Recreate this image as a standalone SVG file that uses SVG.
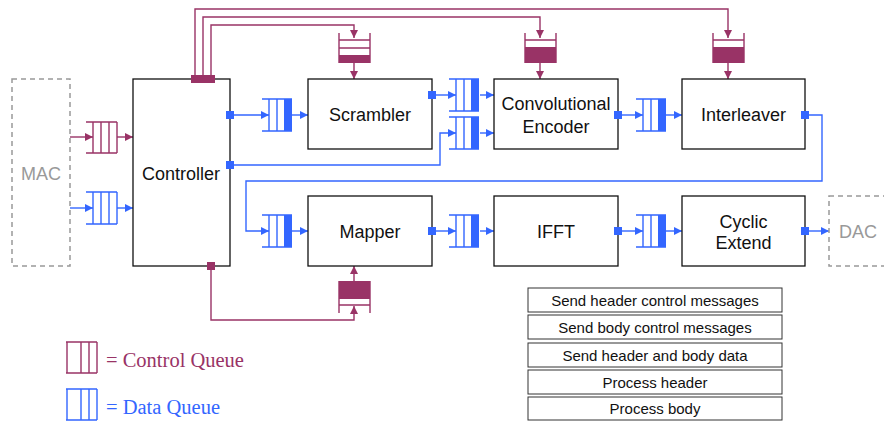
<svg xmlns="http://www.w3.org/2000/svg" width="884" height="422" viewBox="0 0 884 422">
<style>
.box{fill:#fff;stroke:#111;stroke-width:1.3}
.ext{fill:none;stroke:#999;stroke-width:1.5;stroke-dasharray:5,4}
.lbl{font-family:"Liberation Sans",Arial,sans-serif;font-size:18px;fill:#111;text-anchor:middle}
.gl{font-family:"Liberation Sans",Arial,sans-serif;font-size:18px;fill:#999;text-anchor:middle}
.tb{font-family:"Liberation Sans",Arial,sans-serif;font-size:15px;fill:#111;text-anchor:middle}
.leg{font-family:"Liberation Serif","Times New Roman",serif;font-size:20.5px}
.cl{fill:none;stroke:#993366;stroke-width:1.4}
.bl{fill:none;stroke:#3366ff;stroke-width:1.4}
.cf{fill:#993366}
.bf{fill:#3366ff}
.ca{fill:none;stroke:#993366;stroke-width:1.4;marker-end:url(#ac)}
.ba{fill:none;stroke:#3366ff;stroke-width:1.4;marker-end:url(#ab)}
.tbl{fill:#fff;stroke:#333;stroke-width:1}
</style>
<defs>
<marker id="ac" markerUnits="userSpaceOnUse" markerWidth="9" markerHeight="8" refX="8" refY="4" orient="auto"><path d="M0,0 L8,4 L0,8 z" fill="#993366"/></marker>
<marker id="ab" markerUnits="userSpaceOnUse" markerWidth="9" markerHeight="8" refX="8" refY="4" orient="auto"><path d="M0,0 L8,4 L0,8 z" fill="#3366ff"/></marker>
<g id="dq">
<path class="bl" d="M0,0 H30 M0,32 H30 M7,0 V32 M15,0 V32"/>
<rect class="bf" x="22" y="0" width="8" height="32"/>
</g>
</defs>

<g id="connectors">
<path class="ca" d="M70,137 H93"/>
<path class="ca" d="M117,137 H133"/>
<path class="ba" d="M70,208 H93"/>
<path class="ba" d="M117,208 H133"/>
<path class="ca" d="M211,75 V25 H354 V38"/>
<path class="ca" d="M203,75 V17 H540 V38"/>
<path class="ca" d="M195,75 V9 H728 V38"/>
<path class="ca" d="M354,63 V79"/>
<path class="ca" d="M540,63 V79"/>
<path class="ca" d="M728,63 V79"/>
<path class="ba" d="M234,115 H269"/>
<path class="ba" d="M292,115 H308"/>
<path class="ba" d="M436,95 H456"/>
<path class="ba" d="M480,95 H494"/>
<path class="ba" d="M234,165 H440 V133 H456"/>
<path class="ba" d="M480,133 H494"/>
<path class="ba" d="M622,115 H643"/>
<path class="ba" d="M666,115 H682"/>
<path class="ba" d="M809,115 H822 V181 H246 V231 H269"/>
<path class="ba" d="M292,231 H308"/>
<path class="ba" d="M436,231 H456"/>
<path class="ba" d="M480,231 H494"/>
<path class="ba" d="M622,231 H643"/>
<path class="ba" d="M666,231 H682"/>
<path class="ba" d="M809,231 H829"/>
<path class="ca" d="M211,270 V320 H354 V306"/>
<path class="ca" d="M354,281 V266"/>
</g>

<g id="mac">
<rect class="ext" x="12" y="79" width="58" height="187"/>
<text class="gl" x="41" y="179.5">MAC</text>
</g>

<g id="mac-control-queue">
<path class="cl" d="M86,122 H117 M86,153 H117 M93,122 V153 M101,122 V153 M109,122 V153 M117,122 V153"/>
</g>
<g id="mac-data-queue">
<path class="bl" d="M86,192 H117 M86,224 H117 M93,192 V224 M101,192 V224 M109,192 V224 M117,192 V224"/>
</g>

<g id="controller">
<rect class="box" x="133" y="79" width="97" height="187"/>
<text class="lbl" x="181" y="179.5">Controller</text>
<rect class="cf" x="191" y="75" width="24" height="8"/>
<rect class="bf" x="226" y="111" width="8" height="8"/>
<rect class="bf" x="226" y="161" width="8" height="8"/>
<rect class="cf" x="207" y="262" width="8" height="8"/>
</g>

<g id="scrambler-control-queue">
<path class="cl" d="M339,33 V63 M370,33 V63 M339,40 H370 M339,48 H370"/>
<rect class="cf" x="339" y="55" width="31" height="8"/>
</g>
<g id="encoder-control-queue">
<path class="cl" d="M525,33 V63 M556,33 V63 M525,40 H556"/>
<rect class="cf" x="525" y="47" width="31" height="16"/>
</g>
<g id="interleaver-control-queue">
<path class="cl" d="M713,33 V63 M744,33 V63 M713,40 H744"/>
<rect class="cf" x="713" y="47" width="31" height="16"/>
</g>
<g id="mapper-control-queue">
<path class="cl" d="M339,281 V313 M370,281 V313 M339,305 H370"/>
<rect class="cf" x="339" y="281" width="31" height="18"/>
</g>

<g id="scrambler-queue"><use href="#dq" x="262" y="99"/></g>
<g id="encoder-queue-1"><use href="#dq" x="449" y="79"/></g>
<g id="encoder-queue-2"><use href="#dq" x="449" y="117"/></g>
<g id="interleaver-queue"><use href="#dq" x="636" y="99"/></g>
<g id="mapper-queue"><use href="#dq" x="262" y="215"/></g>
<g id="ifft-queue"><use href="#dq" x="449" y="215"/></g>
<g id="cyclic-queue"><use href="#dq" x="636" y="215"/></g>

<g id="scrambler">
<rect class="box" x="308" y="79" width="124" height="70"/>
<text class="lbl" x="370" y="120.5">Scrambler</text>
<rect class="bf" x="428" y="91" width="8" height="8"/>
</g>
<g id="encoder">
<rect class="box" x="494" y="79" width="124" height="70"/>
<text class="lbl" x="556" y="109.5">Convolutional</text>
<text class="lbl" x="556" y="132.5">Encoder</text>
<rect class="bf" x="614" y="111" width="8" height="8"/>
</g>
<g id="interleaver">
<rect class="box" x="682" y="79" width="123" height="70"/>
<text class="lbl" x="743.5" y="120.5">Interleaver</text>
<rect class="bf" x="801" y="111" width="8" height="8"/>
</g>
<g id="mapper">
<rect class="box" x="308" y="196" width="124" height="70"/>
<text class="lbl" x="370" y="237.5">Mapper</text>
<rect class="bf" x="428" y="227" width="8" height="8"/>
</g>
<g id="ifft">
<rect class="box" x="494" y="196" width="124" height="70"/>
<text class="lbl" x="556" y="237.5">IFFT</text>
<rect class="bf" x="614" y="227" width="8" height="8"/>
</g>
<g id="cyclic-extend">
<rect class="box" x="682" y="196" width="123" height="70"/>
<text class="lbl" x="743.5" y="227.5">Cyclic</text>
<text class="lbl" x="743.5" y="248.5">Extend</text>
<rect class="bf" x="801" y="227" width="8" height="8"/>
</g>
<g id="dac">
<rect class="ext" x="829" y="196" width="70" height="70"/>
<text class="gl" x="858" y="237.5">DAC</text>
</g>

<g id="table">
<rect class="tbl" x="528" y="288" width="254" height="24"/>
<text class="tb" x="655" y="305.5">Send header control messages</text>
<rect class="tbl" x="528" y="315" width="254" height="24"/>
<text class="tb" x="655" y="332.5">Send body control messages</text>
<rect class="tbl" x="528" y="343" width="254" height="24"/>
<text class="tb" x="655" y="360.5">Send header and body data</text>
<rect class="tbl" x="528" y="370" width="254" height="24"/>
<text class="tb" x="655" y="387.5">Process header</text>
<rect class="tbl" x="528" y="397" width="254" height="23"/>
<text class="tb" x="655" y="414">Process body</text>
</g>

<g id="legend">
<path class="cl" d="M66,342 H97 M66,373 H97 M67,342 V373 M81,342 V373 M89,342 V373 M97,342 V373"/>
<text class="leg" x="106" y="367" fill="#993366">= Control Queue</text>
<path class="bl" d="M66,389 H97 M66,420 H97 M67,389 V420 M81,389 V420 M89,389 V420 M97,389 V420"/>
<text class="leg" x="106" y="414" fill="#3366ff">= Data Queue</text>
</g>
</svg>
